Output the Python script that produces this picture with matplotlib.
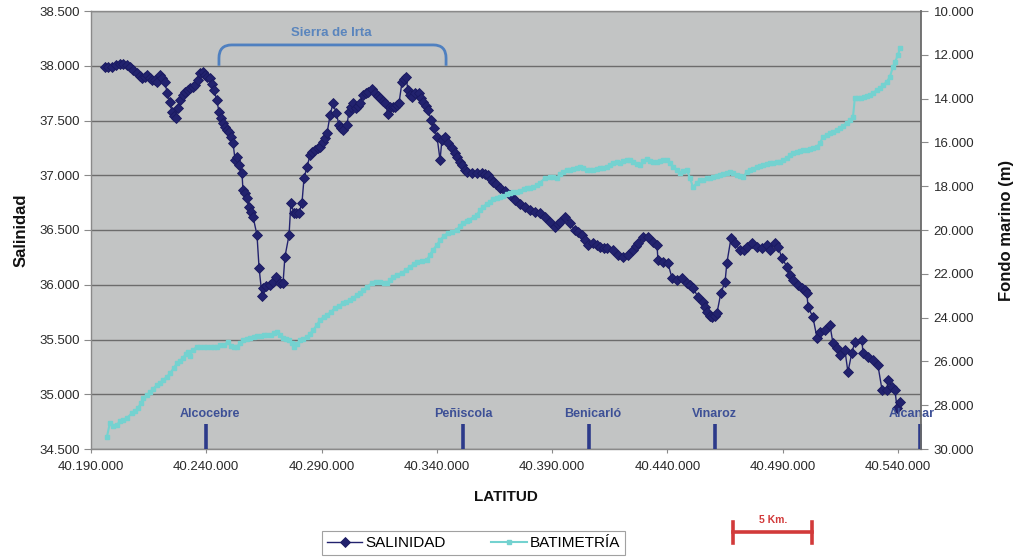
import matplotlib
matplotlib.use("Agg")
import matplotlib.pyplot as plt
from matplotlib.path import Path
from matplotlib.patches import PathPatch
from matplotlib.lines import Line2D
from matplotlib.ticker import FixedLocator, FuncFormatter

plt.rcParams['font.family'] = ['Liberation Sans', 'DejaVu Sans']

# ---- Salinity profile along the coast (latitude, salinity) ----
lat_sal = [
    40.1961, 40.1974, 40.1991, 40.2008, 40.2026, 40.2039, 40.2056, 40.2069, 40.2082, 40.2100,
    40.2113, 40.2121, 40.2134, 40.2143, 40.2156, 40.2165, 40.2178, 40.2186, 40.2199, 40.2208,
    40.2221, 40.2230, 40.2243, 40.2251, 40.2260, 40.2269, 40.2277, 40.2286, 40.2299, 40.2308,
    40.2321, 40.2329, 40.2342, 40.2351, 40.2364, 40.2373, 40.2386, 40.2394, 40.2403, 40.2416,
    40.2425, 40.2433, 40.2446, 40.2455, 40.2464, 40.2472, 40.2481, 40.2490, 40.2499, 40.2507,
    40.2516, 40.2525, 40.2533, 40.2542, 40.2555, 40.2559, 40.2568, 40.2577, 40.2585, 40.2594,
    40.2603, 40.2620, 40.2629, 40.2642, 40.2646, 40.2659, 40.2676, 40.2689, 40.2702, 40.2720,
    40.2733, 40.2741, 40.2759, 40.2767, 40.2780, 40.2789, 40.2802, 40.2815, 40.2824, 40.2837,
    40.2850, 40.2858, 40.2871, 40.2885, 40.2893, 40.2906, 40.2915, 40.2924, 40.2937, 40.2950,
    40.2963, 40.2976, 40.2984, 40.2993, 40.3010, 40.3019, 40.3028, 40.3036, 40.3049, 40.3058,
    40.3067, 40.3080, 40.3093, 40.3101, 40.3119, 40.3132, 40.3145, 40.3153, 40.3166, 40.3175,
    40.3188, 40.3197, 40.3210, 40.3218, 40.3227, 40.3236, 40.3249, 40.3257, 40.3266, 40.3275,
    40.3284, 40.3292, 40.3305, 40.3323, 40.3331, 40.3340, 40.3353, 40.3362, 40.3375, 40.3388,
    40.3401, 40.3414, 40.3422, 40.3435, 40.3448, 40.3466, 40.3479, 40.3487, 40.3500, 40.3509,
    40.3522, 40.3531, 40.3552, 40.3574, 40.3596, 40.3609, 40.3622, 40.3635, 40.3643, 40.3656,
    40.3674, 40.3695, 40.3717, 40.3739, 40.3761, 40.3782, 40.3804, 40.3826, 40.3847, 40.3869,
    40.3891, 40.3912, 40.3925, 40.3934, 40.3956, 40.3977, 40.3999, 40.4012, 40.4029, 40.4042,
    40.4055, 40.4077, 40.4095, 40.4108, 40.4125, 40.4138, 40.4164, 40.4186, 40.4207, 40.4229,
    40.4251, 40.4264, 40.4272, 40.4294, 40.4316, 40.4337, 40.4355, 40.4359, 40.4381, 40.4402,
    40.4420, 40.4441, 40.4463, 40.4485, 40.4498, 40.4511, 40.4533, 40.4554, 40.4563, 40.4572,
    40.4585, 40.4593, 40.4606, 40.4615, 40.4632, 40.4650, 40.4658, 40.4676, 40.4693, 40.4715,
    40.4732, 40.4745, 40.4767, 40.4788, 40.4810, 40.4832, 40.4845, 40.4867, 40.4880, 40.4897,
    40.4919, 40.4932, 40.4945, 40.4966, 40.4984, 40.4997, 40.5005, 40.5010, 40.5031, 40.5049,
    40.5062, 40.5083, 40.5105, 40.5118, 40.5135, 40.5148, 40.5170, 40.5183, 40.5200, 40.5213,
    40.5244, 40.5248, 40.5270, 40.5292, 40.5313, 40.5331, 40.5352, 40.5357, 40.5374, 40.5387,
    40.5396, 40.5409,
]
salinidad = [
    37.989, 37.989, 37.989, 38.007, 38.016, 38.016, 38.007, 37.989, 37.961, 37.934,
    37.906, 37.888, 37.897, 37.916, 37.888, 37.870, 37.870, 37.852, 37.916, 37.888,
    37.852, 37.751, 37.669, 37.578, 37.541, 37.523, 37.614, 37.687, 37.733, 37.760,
    37.779, 37.797, 37.806, 37.824, 37.870, 37.934, 37.943, 37.916, 37.897, 37.888,
    37.833, 37.779, 37.687, 37.578, 37.523, 37.477, 37.441, 37.413, 37.395, 37.349,
    37.295, 37.139, 37.167, 37.094, 37.021, 36.865, 36.838, 36.792, 36.710, 36.664,
    36.619, 36.454, 36.153, 35.897, 35.970, 35.989, 35.998, 36.025, 36.071, 36.016,
    36.016, 36.254, 36.454, 36.747, 36.655, 36.655, 36.655, 36.747, 36.975, 37.075,
    37.185, 37.212, 37.231, 37.249, 37.258, 37.304, 37.340, 37.386, 37.550, 37.660,
    37.569, 37.459, 37.432, 37.413, 37.459, 37.578, 37.623, 37.660, 37.614, 37.632,
    37.660, 37.733, 37.751, 37.760, 37.788, 37.751, 37.724, 37.706, 37.678, 37.660,
    37.559, 37.623, 37.623, 37.623, 37.642, 37.660, 37.852, 37.879, 37.897, 37.779,
    37.733, 37.715, 37.751, 37.751, 37.706, 37.669, 37.632, 37.596, 37.505, 37.432,
    37.349, 37.139, 37.322, 37.349, 37.295, 37.249, 37.203, 37.167, 37.121, 37.094,
    37.048, 37.030, 37.021, 37.021, 37.021, 37.011, 37.002, 36.966, 36.938, 36.920,
    36.884, 36.856, 36.820, 36.774, 36.738, 36.710, 36.683, 36.664, 36.655, 36.619,
    36.573, 36.527, 36.555, 36.573, 36.619, 36.564, 36.500, 36.482, 36.454, 36.409,
    36.363, 36.381, 36.363, 36.345, 36.336, 36.336, 36.317, 36.272, 36.254, 36.272,
    36.317, 36.354, 36.381, 36.436, 36.436, 36.390, 36.363, 36.226, 36.208, 36.199,
    36.062, 36.044, 36.062, 36.016, 35.998, 35.970, 35.888, 35.843, 35.797, 35.751,
    35.715, 35.706, 35.715, 35.742, 35.925, 36.025, 36.199, 36.427, 36.381, 36.317,
    36.317, 36.345, 36.381, 36.345, 36.336, 36.363, 36.317, 36.381, 36.345, 36.244,
    36.162, 36.089, 36.044, 35.998, 35.970, 35.952, 35.925, 35.797, 35.706, 35.514,
    35.569, 35.587, 35.633, 35.468, 35.423, 35.359, 35.405, 35.203, 35.377, 35.477,
    35.496, 35.377, 35.341, 35.313, 35.267, 35.039, 35.039, 35.130, 35.066, 35.039,
    34.875, 34.929,
]

# ---- Sea-floor depth along the same track (latitude, depth in m) ----
lat_bat = [
    40.1969, 40.1982, 40.1995, 40.2013, 40.2026, 40.2039, 40.2056, 40.2078, 40.2091, 40.2104,
    40.2117, 40.2126, 40.2143, 40.2156, 40.2169, 40.2186, 40.2199, 40.2212, 40.2230, 40.2243,
    40.2260, 40.2273, 40.2286, 40.2299, 40.2312, 40.2321, 40.2329, 40.2342, 40.2360, 40.2373,
    40.2390, 40.2403, 40.2420, 40.2433, 40.2446, 40.2459, 40.2477, 40.2494, 40.2507, 40.2520,
    40.2533, 40.2546, 40.2559, 40.2577, 40.2590, 40.2607, 40.2620, 40.2637, 40.2650, 40.2663,
    40.2681, 40.2694, 40.2707, 40.2720, 40.2733, 40.2746, 40.2759, 40.2772, 40.2780, 40.2793,
    40.2806, 40.2819, 40.2837, 40.2850, 40.2863, 40.2880, 40.2893, 40.2911, 40.2924, 40.2941,
    40.2958, 40.2976, 40.2993, 40.3006, 40.3023, 40.3036, 40.3054, 40.3067, 40.3080, 40.3097,
    40.3119, 40.3136, 40.3153, 40.3171, 40.3184, 40.3197, 40.3210, 40.3227, 40.3249, 40.3266,
    40.3284, 40.3301, 40.3314, 40.3336, 40.3357, 40.3370, 40.3383, 40.3401, 40.3414, 40.3431,
    40.3448, 40.3466, 40.3487, 40.3500, 40.3513, 40.3531, 40.3538, 40.3561, 40.3574, 40.3587,
    40.3600, 40.3617, 40.3630, 40.3643, 40.3661, 40.3674, 40.3687, 40.3704, 40.3717, 40.3730,
    40.3748, 40.3761, 40.3778, 40.3791, 40.3804, 40.3817, 40.3834, 40.3847, 40.3869, 40.3891,
    40.3904, 40.3921, 40.3934, 40.3947, 40.3964, 40.3977, 40.3990, 40.4008, 40.4021, 40.4034,
    40.4051, 40.4064, 40.4077, 40.4095, 40.4108, 40.4121, 40.4138, 40.4151, 40.4164, 40.4181,
    40.4194, 40.4207, 40.4225, 40.4238, 40.4251, 40.4268, 40.4281, 40.4294, 40.4311, 40.4324,
    40.4337, 40.4355, 40.4368, 40.4381, 40.4398, 40.4411, 40.4424, 40.4441, 40.4455, 40.4468,
    40.4485, 40.4498, 40.4511, 40.4528, 40.4541, 40.4554, 40.4572, 40.4585, 40.4598, 40.4615,
    40.4628, 40.4641, 40.4658, 40.4671, 40.4684, 40.4702, 40.4715, 40.4728, 40.4745, 40.4758,
    40.4771, 40.4788, 40.4801, 40.4814, 40.4832, 40.4845, 40.4858, 40.4875, 40.4888, 40.4901,
    40.4919, 40.4932, 40.4945, 40.4962, 40.4975, 40.4988, 40.5005, 40.5018, 40.5031, 40.5049,
    40.5062, 40.5075, 40.5092, 40.5105, 40.5118, 40.5135, 40.5148, 40.5161, 40.5179, 40.5192,
    40.5205, 40.5213, 40.5227, 40.5240, 40.5253, 40.5266, 40.5279, 40.5292, 40.5309, 40.5322,
    40.5335, 40.5352, 40.5365, 40.5378, 40.5387, 40.5400, 40.5409,
]
batimetria = [
    29.45, 28.81, 28.95, 28.90, 28.72, 28.68, 28.58, 28.36, 28.26, 28.13,
    27.90, 27.67, 27.53, 27.40, 27.26, 27.08, 26.99, 26.85, 26.71, 26.53,
    26.30, 26.07, 25.98, 25.84, 25.66, 25.57, 25.75, 25.48, 25.34, 25.34,
    25.34, 25.34, 25.34, 25.34, 25.34, 25.25, 25.25, 25.11, 25.30, 25.34,
    25.34, 25.16, 25.02, 24.98, 24.93, 24.89, 24.84, 24.84, 24.79, 24.79,
    24.79, 24.70, 24.66, 24.79, 24.93, 24.98, 25.02, 25.16, 25.34, 25.21,
    25.02, 24.98, 24.89, 24.75, 24.57, 24.34, 24.11, 23.97, 23.88, 23.74,
    23.56, 23.47, 23.33, 23.29, 23.20, 23.11, 22.97, 22.88, 22.74, 22.60,
    22.42, 22.37, 22.37, 22.42, 22.42, 22.28, 22.15, 22.05, 21.96, 21.83,
    21.69, 21.55, 21.46, 21.42, 21.37, 21.14, 20.91, 20.68, 20.46, 20.27,
    20.14, 20.09, 20.00, 19.82, 19.68, 19.59, 19.54, 19.41, 19.32, 19.09,
    18.95, 18.81, 18.72, 18.58, 18.54, 18.49, 18.45, 18.36, 18.31, 18.26,
    18.26, 18.22, 18.13, 18.08, 18.08, 18.04, 17.95, 17.85, 17.63, 17.58,
    17.58, 17.63, 17.44, 17.35, 17.26, 17.26, 17.21, 17.17, 17.12, 17.17,
    17.26, 17.26, 17.26, 17.21, 17.17, 17.17, 17.12, 17.03, 16.94, 16.89,
    16.94, 16.85, 16.80, 16.80, 16.89, 16.99, 17.03, 16.85, 16.76, 16.85,
    16.89, 16.89, 16.85, 16.80, 16.80, 16.94, 17.12, 17.26, 17.40, 17.31,
    17.26, 17.63, 18.04, 17.85, 17.72, 17.72, 17.63, 17.63, 17.58, 17.53,
    17.49, 17.44, 17.40, 17.35, 17.40, 17.49, 17.53, 17.58, 17.35, 17.26,
    17.21, 17.12, 17.08, 17.03, 16.99, 16.94, 16.94, 16.89, 16.89, 16.80,
    16.71, 16.58, 16.48, 16.44, 16.39, 16.35, 16.35, 16.30, 16.26, 16.21,
    16.03, 15.75, 15.66, 15.57, 15.53, 15.43, 15.34, 15.25, 15.11, 14.98,
    14.84, 13.97, 13.97, 13.97, 13.93, 13.88, 13.84, 13.74, 13.61, 13.52,
    13.38, 13.24, 13.01, 12.56, 12.33, 12.01, 11.69,
]

# ---- Coastal towns marked along the latitude axis ----
towns = ["Alcocebre", "Peñiscola", "Benicarló", "Vinaroz", "Alcanar"]
town_lat = [40.2399, 40.3513, 40.4060, 40.4606, 40.5495]
# horizontal nudge of each name relative to its marker (degrees of latitude)
town_label_shift = [0.0015, 0.0, 0.0018, 0.0, -0.0035]

# ---- Sierra de Irta stretch ----
irta_label = "Sierra de Irta"
irta_start, irta_end = 40.2455, 40.3440

# ---- Axis ticks ----
lat_ticks = [40.19, 40.24, 40.29, 40.34, 40.39, 40.44, 40.49, 40.54]
sal_ticks = [34.5, 35.0, 35.5, 36.0, 36.5, 37.0, 37.5, 38.0, 38.5]
depth_ticks = [10, 12, 14, 16, 18, 20, 22, 24, 26, 28, 30]

NAVY = '#22226e'
CYAN = '#74d2d0'
TICK_COL = '#2a2a2a'

fig = plt.figure(figsize=(10.3, 5.6), dpi=100)
ax = fig.add_axes([91 / 1030, 111 / 560, 830 / 1030, 438 / 560])
ax.set_facecolor('#c2c4c4')

ax.plot(lat_sal, salinidad, color=NAVY, lw=1.0, marker='D', ms=4.7,
        mfc=NAVY, mec='#1a1a60', mew=0.6, label='SALINIDAD', zorder=3)

ax.set_xlim(40.19, 40.55)
ax.set_ylim(34.5, 38.5)
ax.xaxis.set_major_locator(FixedLocator(lat_ticks))
ax.yaxis.set_major_locator(FixedLocator(sal_ticks))
ax.xaxis.set_major_formatter(FuncFormatter(lambda v, p: f"{v:.3f}.000"))
ax.yaxis.set_major_formatter(FuncFormatter(lambda v, p: f"{v:.3f}"))
ax.yaxis.grid(True, color='#6c6c6c', lw=1.0)
ax.set_axisbelow(True)
for side in ['left', 'top', 'bottom']:
    ax.spines[side].set_color('#8a8a8a')
    ax.spines[side].set_linewidth(1.0)
ax.spines['right'].set_visible(False)
ax.tick_params(axis='y', direction='out', length=5, width=0.8, color='#8a8a8a',
               labelsize=9.5, labelcolor=TICK_COL, pad=3)
ax.tick_params(axis='x', direction='out', length=3, width=0.8, color='#8a8a8a',
               labelsize=9.5, labelcolor=TICK_COL, pad=6)

ax.set_ylabel('Salinidad', fontsize=12, fontweight='bold', color='#111111')
ax.yaxis.set_label_coords(-0.0755, 0.5)
ax.set_xlabel('LATITUD', fontsize=11, fontweight='bold', color='#111111')
ax.xaxis.set_label_coords(0.5, -0.094)

# Secondary axis: depth of the sea floor (inverted)
ax2 = ax.twinx()
ax2.plot(lat_bat, batimetria, color=CYAN, lw=1.5, marker='s', ms=2.3,
         mfc=CYAN, mec=CYAN, label='BATIMETRÍA', zorder=3)
ax2.set_ylim(30, 10)
ax2.yaxis.set_major_locator(FixedLocator(depth_ticks))
ax2.yaxis.set_major_formatter(FuncFormatter(lambda v, p: f"{v:.3f}"))
for side in ['left', 'top', 'bottom']:
    ax2.spines[side].set_visible(False)
ax2.spines['right'].set_color('#6a6a6a')
ax2.spines['right'].set_linewidth(1.3)
ax2.tick_params(axis='y', direction='out', length=5, width=0.8, color='#8a8a8a',
                labelsize=9.5, labelcolor=TICK_COL, pad=4)
ax2.set_ylabel('Fondo marino (m)', fontsize=12, fontweight='bold', color='#111111')
ax2.yaxis.set_label_coords(1.0935, 0.5)

# Town markers at the foot of the chart
ax.vlines(town_lat, 34.5, 34.73, color='#2c3a8a', lw=2.6, clip_on=False, zorder=4)
for name, lat, dx in zip(towns, town_lat, town_label_shift):
    ax.text(lat + dx, 34.82, name, ha='center', va='center', fontsize=9,
            fontweight='bold', color='#3d5096', clip_on=False, zorder=4)

# Bracket over the Sierra de Irta coastline
top, base = 38.19, 38.0
rx, ry = 0.0055, 0.12
verts = [(irta_start, base), (irta_start, top - ry), (irta_start, top),
         (irta_start + rx, top), (irta_end - rx, top), (irta_end, top),
         (irta_end, top - ry), (irta_end, base)]
codes = [Path.MOVETO, Path.LINETO, Path.CURVE3, Path.CURVE3, Path.LINETO,
         Path.CURVE3, Path.CURVE3, Path.LINETO]
ax.add_patch(PathPatch(Path(verts, codes), fill=False, ec='#4f80c0', lw=2.0,
                       capstyle='butt', zorder=2))
ax.text((irta_start + irta_end) / 2 - 0.0005, 38.30, irta_label, ha='center',
        va='center', fontsize=9.5, fontweight='bold', color='#5a85bd')

# Legend below the axis title
handles = ax.get_lines()[:1] + ax2.get_lines()[:1]
leg = fig.legend(handles, [h.get_label() for h in handles], loc='center',
                 bbox_to_anchor=(473.5 / 1030, 1 - 543 / 560), ncol=2,
                 frameon=True, fancybox=False, fontsize=11, handlelength=2.3,
                 handletextpad=0.2, columnspacing=3.0, borderpad=0.35,
                 borderaxespad=0)
leg.get_frame().set_edgecolor('#8a8a8a')
leg.get_frame().set_linewidth(0.8)

# 5 km scale bar
RED = '#d23a3a'
y_bar = 1 - 532 / 560
fig.add_artist(Line2D([733 / 1030, 812 / 1030], [y_bar, y_bar], color=RED,
                      lw=2.6, transform=fig.transFigure))
for xp in (733, 812):
    fig.add_artist(Line2D([xp / 1030, xp / 1030], [1 - 522 / 560, 1 - 543 / 560],
                          color=RED, lw=2.6, transform=fig.transFigure))
fig.text(773 / 1030, 1 - 520 / 560, '5 Km.', ha='center', va='center',
         fontsize=7.5, fontweight='bold', color=RED)

fig.savefig('out.png', dpi=100, facecolor='white')
